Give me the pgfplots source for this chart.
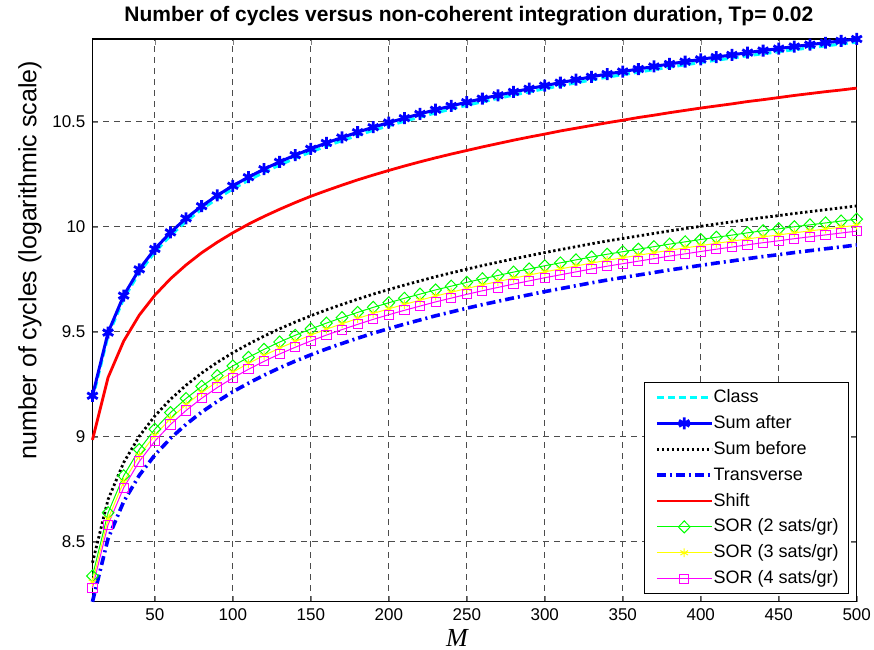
\documentclass[border=0pt]{standalone}
\usepackage{fontspec}
\setmainfont{Liberation Sans}
\newfontfamily\timesfont{Liberation Serif}
\usepackage{pgfplots}
\usepackage{pgfplotstable}
\pgfplotsset{compat=1.18}

% columns: M, Class, Sum after, Sum before, Transverse, Shift, SOR 2/3/4 sats
\pgfplotstableread{
M class after before trans shift sor2 sor3 sor4
10 9.180 9.195 8.400 8.214 8.985 8.337 8.308 8.280
20 9.481 9.496 8.701 8.515 9.282 8.638 8.609 8.581
30 9.657 9.672 8.877 8.691 9.455 8.814 8.785 8.757
40 9.782 9.797 9.002 8.816 9.579 8.939 8.910 8.882
50 9.879 9.894 9.099 8.913 9.674 9.036 9.007 8.979
60 9.958 9.973 9.178 8.992 9.752 9.115 9.086 9.058
70 10.025 10.040 9.245 9.059 9.818 9.182 9.153 9.125
80 10.083 10.098 9.303 9.117 9.876 9.240 9.211 9.183
90 10.134 10.149 9.354 9.168 9.926 9.291 9.262 9.234
100 10.180 10.195 9.400 9.214 9.971 9.337 9.308 9.280
110 10.221 10.236 9.441 9.255 10.012 9.378 9.349 9.321
120 10.259 10.274 9.479 9.293 10.049 9.416 9.387 9.359
130 10.294 10.309 9.514 9.328 10.083 9.451 9.422 9.394
140 10.326 10.341 9.546 9.360 10.115 9.483 9.454 9.426
150 10.356 10.371 9.576 9.390 10.145 9.513 9.484 9.456
160 10.384 10.399 9.604 9.418 10.172 9.541 9.512 9.484
170 10.410 10.425 9.630 9.444 10.198 9.567 9.538 9.510
180 10.435 10.450 9.655 9.469 10.223 9.592 9.563 9.535
190 10.459 10.474 9.679 9.493 10.246 9.616 9.587 9.559
200 10.481 10.496 9.701 9.515 10.268 9.638 9.609 9.581
210 10.502 10.517 9.722 9.536 10.289 9.659 9.630 9.602
220 10.522 10.537 9.742 9.556 10.309 9.679 9.650 9.622
230 10.542 10.557 9.762 9.576 10.328 9.699 9.670 9.642
240 10.560 10.575 9.780 9.594 10.346 9.717 9.688 9.660
250 10.578 10.593 9.798 9.612 10.363 9.735 9.706 9.678
260 10.595 10.610 9.815 9.629 10.380 9.752 9.723 9.695
270 10.611 10.626 9.831 9.645 10.396 9.768 9.739 9.711
280 10.627 10.642 9.847 9.661 10.412 9.784 9.755 9.727
290 10.642 10.657 9.862 9.676 10.427 9.799 9.770 9.742
300 10.657 10.672 9.877 9.691 10.441 9.814 9.785 9.757
310 10.671 10.686 9.891 9.705 10.456 9.828 9.799 9.771
320 10.685 10.700 9.905 9.719 10.469 9.842 9.813 9.785
330 10.699 10.714 9.919 9.733 10.482 9.856 9.827 9.799
340 10.712 10.727 9.932 9.746 10.495 9.869 9.840 9.812
350 10.724 10.739 9.944 9.758 10.507 9.881 9.852 9.824
360 10.736 10.751 9.956 9.770 10.520 9.893 9.864 9.836
370 10.748 10.763 9.968 9.782 10.531 9.905 9.876 9.848
380 10.760 10.775 9.980 9.794 10.543 9.917 9.888 9.860
390 10.771 10.786 9.991 9.805 10.554 9.928 9.899 9.871
400 10.782 10.797 10.002 9.816 10.565 9.939 9.910 9.882
410 10.793 10.808 10.013 9.827 10.575 9.950 9.921 9.893
420 10.803 10.818 10.023 9.837 10.585 9.960 9.931 9.903
430 10.814 10.829 10.034 9.848 10.596 9.971 9.942 9.914
440 10.824 10.839 10.044 9.858 10.605 9.981 9.952 9.924
450 10.833 10.848 10.053 9.867 10.615 9.990 9.961 9.933
460 10.843 10.858 10.063 9.877 10.625 10.000 9.971 9.943
470 10.852 10.867 10.072 9.886 10.634 10.009 9.980 9.952
480 10.861 10.876 10.081 9.895 10.643 10.018 9.989 9.961
490 10.870 10.885 10.090 9.904 10.651 10.027 9.998 9.970
500 10.879 10.894 10.099 9.913 10.660 10.036 10.007 9.979
}\cycles

\definecolor{mcyan}{RGB}{0,255,255}
\definecolor{mblue}{RGB}{0,0,255}
\definecolor{mred}{RGB}{255,0,0}
\definecolor{mgreen}{RGB}{0,255,0}
\definecolor{myellow}{RGB}{255,255,0}
\definecolor{mmagenta}{RGB}{255,0,255}

\begin{document}
\begin{tikzpicture}
\begin{axis}[
    name=ax,
    scale only axis,
    width=382.25pt, height=281.5pt,
    xmin=10, xmax=500, ymin=8.214, ymax=10.894,
    xtick={50,100,...,500},
    ytick={8.5,9,9.5,10,10.5},
    grid=major,
    major grid style={black!70, line width=0.4pt, dash pattern=on 3pt off 2.5pt},
    tick align=inside, tick pos=both,
    major tick length=3pt,
    axis line style={line width=0.6pt},
    clip=false,
    /pgf/number format/assume math mode=true,
    ticklabel style={font=\fontsize{8.5}{10}\selectfont},
    every axis title shift=0pt,
    title={Number of cycles versus non-coherent integration duration, Tp= 0.02},
    title style={font=\bfseries\fontsize{10.5}{12}\selectfont,
        at={(rel axis cs:0.4925,1.0302)}, anchor=base, yshift=0pt},
    xlabel={\timesfont\itshape M},
    xlabel style={font=\fontsize{13}{15}\selectfont,
        at={(rel axis cs:0.477,-0.080)}, anchor=base},
    ylabel={number of cycles (logarithmic scale)},
    ylabel style={font=\fontsize{12.5}{14}\selectfont,
        at={(rel axis cs:-0.0818,0.607)}, anchor=center},
    legend cell align=left,
    legend style={at={(rel axis cs:1,0)}, anchor=south east,
        xshift=-3.85pt, yshift=4pt,
        font=\fontsize{9}{10}\selectfont,
        draw=black, line width=0.5pt, fill=white,
        inner xsep=5pt, inner ysep=2.8pt,
        row sep=3.95pt,
        nodes={inner sep=0pt, text height=7pt, text depth=2pt}},
    legend image code/.code={
        \draw[mark repeat=2, mark phase=2, #1] plot coordinates {(0pt,0pt) (13.75pt,0pt) (27.5pt,0pt)};
        \hspace{3.5pt}},
]
\addplot[mcyan, line width=1.5pt, dash pattern=on 3.5pt off 2pt] table[x=M, y=class] {\cycles};
\addlegendentry{Class}
\addplot[mblue, line width=1.5pt, mark=asterisk, mark size=3pt, mark options={solid, line width=1.4pt}] table[x=M, y=after] {\cycles};
\addlegendentry{Sum after}
\addplot[black, line width=1.4pt, dash pattern=on 1.2pt off 1.3pt] table[x=M, y=before] {\cycles};
\addlegendentry{Sum before}
\addplot[mblue, line width=1.8pt, dash pattern=on 4.5pt off 2pt on 1pt off 2pt] table[x=M, y=trans] {\cycles};
\addlegendentry{Transverse}
\addplot[mred, line width=1.4pt] table[x=M, y=shift] {\cycles};
\addlegendentry{Shift}
\addplot[mgreen, line width=0.5pt, mark=diamond, mark size=3pt, mark options={solid, xscale=1.3}] table[x=M, y=sor2] {\cycles};
\addlegendentry{SOR (2 sats/gr)}
\addplot[myellow, line width=0.5pt, mark=asterisk, mark size=2.2pt] table[x=M, y=sor3] {\cycles};
\addlegendentry{SOR (3 sats/gr)}
\addplot[mmagenta, line width=0.5pt, mark=square, mark size=2.3pt] table[x=M, y=sor4] {\cycles};
\addlegendentry{SOR (4 sats/gr)}
\end{axis}
\pgfresetboundingbox
\path[use as bounding box] ([shift={(-46.25pt,-24pt)}]ax.south west) rectangle ([shift={(8.65pt,19.5pt)}]ax.north east);
\end{tikzpicture}
\end{document}
